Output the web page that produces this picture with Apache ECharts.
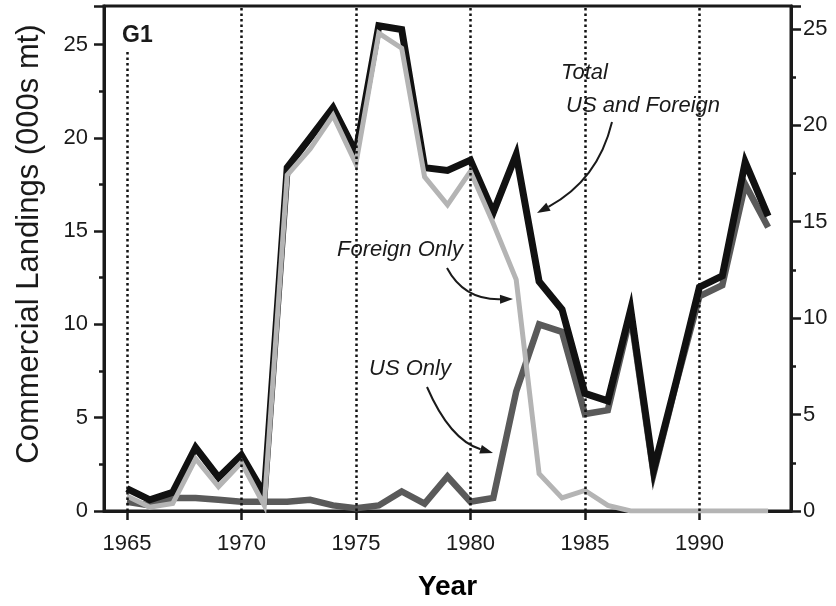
<!DOCTYPE html>
<html>
<head>
<meta charset="utf-8">
<script src="https://cdn.jsdelivr.net/npm/echarts@6/dist/echarts.min.js"></script>
<style>
  html, body { margin: 0; padding: 0; background: #fff; }
  #main { width: 836px; height: 606px; }
</style>
</head>
<body>
<div id="main"></div>
<script>
// landings, thousands of metric tons
var years = [1965, 1966, 1967, 1968, 1969, 1970, 1971, 1972, 1973, 1974,
             1975, 1976, 1977, 1978, 1979, 1980, 1981, 1982, 1983, 1984,
             1985, 1986, 1987, 1988, 1989, 1990, 1991, 1992, 1993];
var totalLandings = [1.2, 0.6, 1.0, 3.4, 1.8, 3.0, 0.9, 18.4, 20.0, 21.6,
                     19.2, 26.0, 25.8, 18.4, 18.25, 18.8, 16.0, 19.1, 12.3, 10.8,
                     6.3, 5.9, 10.8, 2.2, 7.0, 12.0, 12.6, 18.7, 15.8];
var foreignOnly = [0.8, 0.2, 0.4, 2.8, 1.3, 2.6, 0.3, 18.0, 19.4, 21.2,
                   18.6, 25.6, 24.8, 17.9, 16.4, 18.2, 15.4, 12.4, 2.0, 0.7,
                   1.1, 0.3, 0, 0, 0, 0, 0, 0, 0];
var usOnly = [0.5, 0.3, 0.7, 0.7, 0.6, 0.5, 0.5, 0.5, 0.6, 0.3,
              0.15, 0.3, 1.05, 0.4, 1.85, 0.5, 0.7, 6.4, 10.0, 9.6,
              5.2, 5.4, 10.5, 2.0, 6.9, 11.5, 12.1, 17.5, 15.2];
var yearTicks = [1965, 1970, 1975, 1980, 1985, 1990];

var FONT = '"Liberation Sans", Arial, Helvetica, sans-serif';
var INK = '#1a1a1a';

function pairs(vals) {
  return years.map(function (y, i) { return [y, vals[i]]; });
}

// curved annotation arrow: curve from p0 via control c to tip
function arrow(p0, c, tip) {
  var dx = tip[0] - c[0], dy = tip[1] - c[1];
  var len = Math.sqrt(dx * dx + dy * dy);
  dx /= len; dy /= len;
  var bx = tip[0] - dx * 13, by = tip[1] - dy * 13;
  var nx = -dy * 4.5, ny = dx * 4.5;
  return [
    {
      type: 'bezierCurve', z: 100,
      shape: { x1: p0[0], y1: p0[1], cpx1: c[0], cpy1: c[1], x2: bx, y2: by },
      style: { stroke: INK, lineWidth: 2, fill: null }
    },
    {
      type: 'polygon', z: 100,
      shape: { points: [tip, [bx + nx, by + ny], [bx - nx, by - ny]] },
      style: { fill: INK }
    }
  ];
}

function note(text, x, y) {
  return {
    type: 'text', z: 100, x: x, y: y,
    style: { text: text, font: 'italic 22px ' + FONT, fill: INK, verticalAlign: 'middle' }
  };
}

var myChart = echarts.init(document.getElementById('main'));

var graphics = [
  // white patch so the 1965 grid line stops under the panel label
  { type: 'rect', z: 90, shape: { x: 120, y: 8, width: 16, height: 44 }, style: { fill: '#fff' } },
  { type: 'text', z: 100, x: 122, y: 36,
    style: { text: 'G1', font: 'bold 23px ' + FONT, fill: INK, verticalAlign: 'middle' } },
  { type: 'text', z: 100, x: 29, y: 244, rotation: Math.PI / 2,
    style: { text: 'Commercial Landings (000s mt)', font: '31px ' + FONT, fill: INK,
             align: 'center', verticalAlign: 'middle' } },
  note('Total', 561, 73),
  note('US and Foreign', 566, 106),
  note('Foreign Only', 337, 250),
  note('US Only', 369, 369)
];
graphics = graphics
  .concat(arrow([612, 122], [598, 180], [537, 213]))
  .concat(arrow([447, 268], [464, 300], [513, 299]))
  .concat(arrow([427, 387], [450, 440], [493, 453]));

var tickStyle = { color: INK, width: 2.5 };
var labelStyle = { color: INK, fontSize: 22, fontFamily: FONT };

var option = {
  animation: false,
  backgroundColor: '#fff',
  grid: {
    left: 104, right: 45, top: 6, bottom: 88,
    show: true, borderColor: INK, borderWidth: 3, backgroundColor: 'transparent'
  },
  xAxis: {
    type: 'value', min: 1964, max: 1994,
    name: 'Year', nameLocation: 'middle', nameGap: 62,
    nameTextStyle: { color: '#000', fontSize: 28, fontWeight: 'bold', fontFamily: FONT },
    axisLine: { show: true, lineStyle: { color: INK, width: 3 } },
    axisTick: { show: true, length: 9, lineStyle: tickStyle, customValues: yearTicks },
    axisLabel: Object.assign({
      margin: 22, customValues: yearTicks,
      formatter: function (v) { return String(v); }
    }, labelStyle),
    splitLine: { show: false }
  },
  yAxis: [
    {
      type: 'value', min: 0, max: 27.06, interval: 5,
      axisLine: { show: true, lineStyle: { color: INK, width: 3 } },
      axisTick: { show: true, length: 10, lineStyle: tickStyle },
      minorTick: { show: true, splitNumber: 2, length: 5, lineStyle: tickStyle },
      axisLabel: Object.assign({ margin: 16, showMaxLabel: false }, labelStyle),
      splitLine: { show: false }
    },
    {
      type: 'value', min: 0, max: 26.18, interval: 5, position: 'right',
      axisLine: { show: true, lineStyle: { color: INK, width: 3 } },
      axisTick: { show: true, length: 10, lineStyle: tickStyle },
      minorTick: { show: true, splitNumber: 2, length: 5, lineStyle: tickStyle },
      axisLabel: Object.assign({ margin: 12, showMaxLabel: false }, labelStyle),
      splitLine: { show: false }
    }
  ],
  graphic: graphics,
  series: [
    {
      name: 'grid', type: 'line', data: [], z: 1, silent: true,
      markLine: {
        silent: true, symbol: 'none', animation: false,
        label: { show: false },
        lineStyle: { color: '#111', width: 2.5, type: [2.5, 3] },
        data: yearTicks.map(function (v) { return { xAxis: v }; })
      }
    },
    {
      name: 'US Only', type: 'line', data: pairs(usOnly),
      z: 2, symbol: 'none',
      lineStyle: { color: '#5a5a5a', width: 6.5, join: 'miter', miterLimit: 6 }
    },
    {
      name: 'Total US and Foreign', type: 'line', data: pairs(totalLandings),
      z: 3, symbol: 'none',
      lineStyle: { color: '#111', width: 7, join: 'miter', miterLimit: 6 }
    },
    {
      name: 'Foreign Only', type: 'line', data: pairs(foreignOnly),
      z: 4, symbol: 'none',
      lineStyle: { color: '#b4b4b4', width: 5, join: 'miter', miterLimit: 6 }
    }
  ]
};

myChart.setOption(option);
</script>
</body>
</html>
